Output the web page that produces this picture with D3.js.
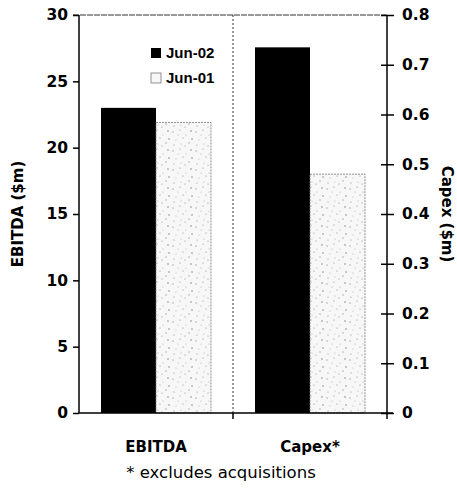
<!DOCTYPE html>
<html>
<head>
<meta charset="utf-8">
<script src="https://cdn.jsdelivr.net/npm/d3@7"></script>
<style>
  body { margin: 0; background: #fff; }
  svg { display: block; }
  text { font-family: "DejaVu Sans", sans-serif; fill: #000; }
</style>
</head>
<body>
<div id="vis"></div>
<script>
// data
const categories = ["EBITDA", "Capex*"]
const seriesNames = ["Jun-02", "Jun-01"]
const ebitdaValues = [23.0, 21.9]     // $m, left axis
const capexValues = [0.735, 0.48]     // $m, right axis
const leftTicks = [0, 5, 10, 15, 20, 25, 30]
const rightTicks = [0, 0.1, 0.2, 0.3, 0.4, 0.5, 0.6, 0.7, 0.8]

const W = 457, H = 494
const margin = {top: 15, right: 70, bottom: 81, left: 79}
const width = W - margin.left - margin.right
const height = H - margin.top - margin.bottom

const svg = d3.select('#vis')
    .append('svg')
    .attr('width', W)
    .attr('height', H)

// stipple pattern for Jun-01 bars
const defs = svg.append('defs')
const pat = defs.append('pattern')
    .attr('id', 'stipple')
    .attr('patternUnits', 'userSpaceOnUse')
    .attr('width', 23).attr('height', 19)
pat.append('rect').attr('width', 23).attr('height', 19).attr('fill', '#f7f7f7')
const dots = [[2,3],[9,1],[15,6],[20,2],[5,11],[12,9],[18,14],[3,16],[10,15],[21,10],[7,6],[14,17]]
pat.selectAll('circle').data(dots).join('circle')
    .attr('cx', d => d[0]).attr('cy', d => d[1])
    .attr('r', (d, i) => i % 3 === 0 ? 0.8 : 0.55)
    .attr('fill', (d, i) => i % 2 ? '#8a8a8a' : '#b0b0b0')

const g = svg.append('g')
    .attr('transform', `translate(${margin.left},${margin.top})`)

const x0 = d3.scaleBand().domain(categories).range([0, width]).padding(0)
const x1 = d3.scaleBand().domain(seriesNames)
    .range([0, x0.bandwidth()]).paddingInner(0).paddingOuter(0.4)

const yLeft = d3.scaleLinear().domain([0, 30]).range([height, 0])
const yRight = d3.scaleLinear().domain([0, 0.8]).range([height, 0])

const rows = [
    {cat: categories[0], scale: yLeft, values: ebitdaValues},
    {cat: categories[1], scale: yRight, values: capexValues}
]

// bars
rows.forEach(r => {
    const grp = g.append('g').attr('transform', `translate(${x0(r.cat)},0)`)
    grp.selectAll('rect')
        .data(seriesNames.map((s, i) => ({s, v: r.values[i]})))
        .join('rect')
        .attr('x', d => x1(d.s))
        .attr('width', x1.bandwidth())
        .attr('y', d => r.scale(d.v))
        .attr('height', d => height - r.scale(d.v))
        .attr('fill', d => d.s === 'Jun-02' ? '#000' : 'url(#stipple)')
        .attr('stroke', d => d.s === 'Jun-02' ? 'none' : '#777')
        .attr('stroke-width', 0.8)
        .attr('stroke-dasharray', d => d.s === 'Jun-02' ? null : '2,1')
})

// divider between groups
g.append('line')
    .attr('x1', x0(categories[1])).attr('x2', x0(categories[1]))
    .attr('y1', 0).attr('y2', height)
    .attr('stroke', '#333').attr('stroke-width', 1)
    .attr('stroke-dasharray', '2,2')

// top frame line
g.append('line')
    .attr('x1', -6).attr('x2', width)
    .attr('y1', 0).attr('y2', 0)
    .attr('stroke', '#333').attr('stroke-width', 1)
    .attr('stroke-dasharray', '6,1')

// left axis
const leftAxis = g.append('g')
    .call(d3.axisLeft(yLeft).tickValues(leftTicks).tickSize(6).tickPadding(5).tickFormat(d3.format('d')))
leftAxis.select('.domain').attr('stroke-width', 1.5).attr('d', `M0,${height}V0`)
leftAxis.selectAll('line').attr('stroke-width', 1.5)
leftAxis.selectAll('text').style('font-size', '15.5px').style('font-weight', 'bold')

// right axis (ticks cross the axis)
const rightAxis = g.append('g')
    .attr('transform', `translate(${width},0)`)
    .call(d3.axisRight(yRight).tickValues(rightTicks).tickSize(7).tickPadding(8)
        .tickFormat(d => d === 0 ? '0' : d3.format('.1f')(d)))
rightAxis.select('.domain').attr('stroke-width', 1.5).attr('d', `M0,${height}V0`)
rightAxis.selectAll('.tick line').attr('x1', -6).attr('stroke-width', 1.5)
rightAxis.selectAll('text').style('font-size', '15.5px').style('font-weight', 'bold')

// bottom axis
const bottom = g.append('g').attr('transform', `translate(0,${height})`)
bottom.append('line')
    .attr('x1', 0).attr('x2', width + 6)
    .attr('stroke', '#000').attr('stroke-width', 1.5)
bottom.selectAll('.xtick')
    .data(categories)
    .join('line')
    .attr('class', 'xtick')
    .attr('x1', d => x0(d) + x0.bandwidth()).attr('x2', d => x0(d) + x0.bandwidth())
    .attr('y1', 0).attr('y2', 6)
    .attr('stroke', '#000').attr('stroke-width', 1.5)
bottom.selectAll('.xlabel')
    .data(categories)
    .join('text')
    .attr('class', 'xlabel')
    .attr('x', d => x0(d) + x0.bandwidth() / 2)
    .attr('y', 39)
    .attr('text-anchor', 'middle')
    .style('font-size', '15px')
    .style('font-weight', 'bold')
    .text(d => d)

// axis titles
svg.append('text')
    .attr('transform', `translate(23,${margin.top + height / 2}) rotate(-90)`)
    .attr('text-anchor', 'middle')
    .style('font-size', '15px')
    .style('font-weight', 'bold')
    .text('EBITDA ($m)')

svg.append('text')
    .attr('transform', `translate(442,${margin.top + height / 2}) rotate(90)`)
    .attr('text-anchor', 'middle')
    .style('font-size', '15px')
    .style('font-weight', 'bold')
    .text('Capex ($m)')

// footnote
svg.append('text')
    .attr('x', 221)
    .attr('y', 478)
    .attr('text-anchor', 'middle')
    .style('font-size', '16.5px')
    .text('* excludes acquisitions')

// legend
const legend = g.append('g')
    .attr('transform', `translate(72,33)`)
const lrow = legend.selectAll('.legend-row')
    .data(seriesNames)
    .join('g')
    .attr('class', 'legend-row')
    .attr('transform', (d, i) => `translate(0,${i * 25})`)
lrow.append('rect')
    .attr('width', 10).attr('height', 10)
    .attr('fill', d => d === 'Jun-02' ? '#000' : '#f7f7f7')
    .attr('stroke', d => d === 'Jun-02' ? 'none' : '#777')
    .attr('stroke-width', 0.8)
lrow.append('text')
    .attr('x', 15)
    .attr('y', 10)
    .style('font-family', '"Liberation Sans", Arial, sans-serif')
    .style('font-size', '15px')
    .style('font-weight', 'bold')
    .text(d => d)
</script>
</body>
</html>
